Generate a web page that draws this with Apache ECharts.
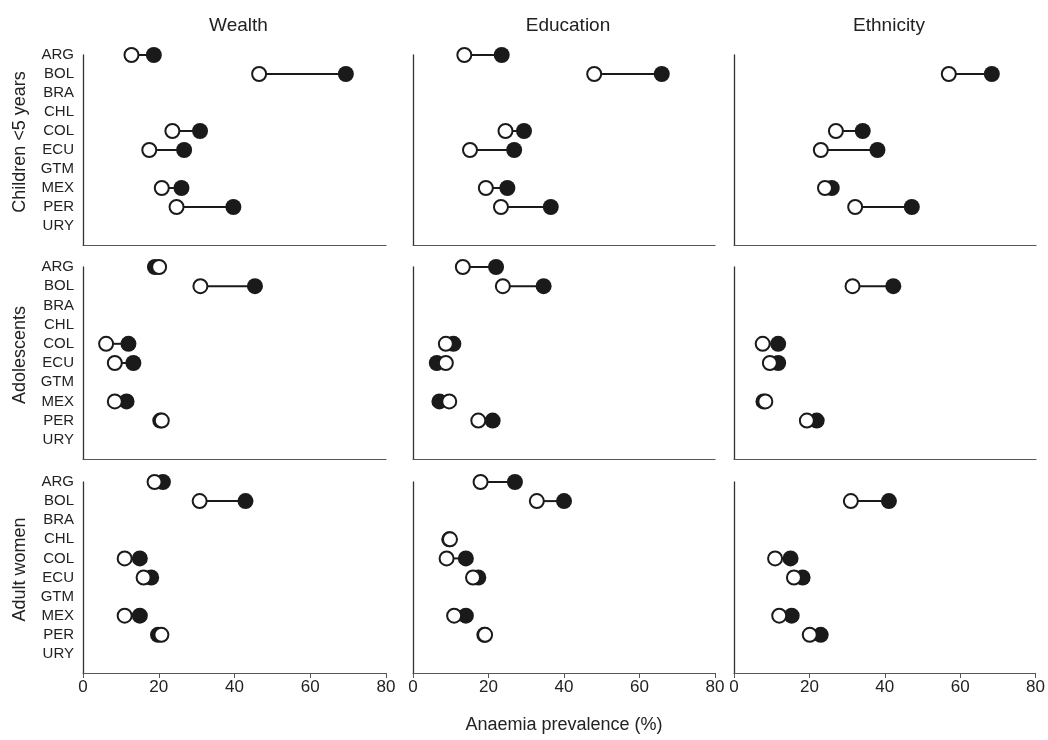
<!DOCTYPE html>
<html>
<head>
<meta charset="utf-8">
<script src="https://cdn.jsdelivr.net/npm/echarts@6/dist/echarts.min.js"></script>
<style>html,body{margin:0;padding:0;background:#fff}#c{width:1048px;height:740px}</style>
</head>
<body>
<div id="c"></div>
<script>
const countries = ['ARG','BOL','BRA','CHL','COL','ECU','GTM','MEX','PER','URY'];
const columnTitles = ['Wealth','Education','Ethnicity'];
const rowTitles = ['Children <5 years','Adolescents','Adult women'];
const xTicks = [0,20,40,60,80];
const xAxisTitle = 'Anaemia prevalence (%)';

// open = open circle group, filled = filled circle group
const wealthChildrenOpen     = [12.8,46.5,null,null,23.6,17.5,null,20.8,24.7,null];
const wealthChildrenFilled   = [18.7,69.4,null,null,30.9,26.7,null,26.0,39.7,null];
const educChildrenOpen       = [13.6,48.0,null,null,24.5,15.1,null,19.3,23.3,null];
const educChildrenFilled     = [23.5,65.9,null,null,29.4,26.8,null,25.0,36.5,null];
const ethnChildrenOpen       = [null,56.9,null,null,27.0,23.0,null,24.1,32.1,null];
const ethnChildrenFilled     = [null,68.3,null,null,34.1,38.0,null,25.9,47.1,null];

const wealthAdolOpen         = [20.1,31.0,null,null,6.1,8.4,null,8.4,20.8,null];
const wealthAdolFilled       = [19.0,45.4,null,null,12.0,13.3,null,11.5,20.4,null];
const educAdolOpen           = [13.2,23.8,null,null,8.7,8.7,null,9.6,17.3,null];
const educAdolFilled         = [22.0,34.6,null,null,10.7,6.3,null,7.0,21.1,null];
const ethnAdolOpen           = [null,31.4,null,null,7.6,9.5,null,8.3,19.3,null];
const ethnAdolFilled         = [null,42.2,null,null,11.7,11.7,null,7.8,21.9,null];

const wealthWomenOpen        = [18.9,30.8,null,null,11.0,16.0,null,11.0,20.7,null];
const wealthWomenFilled      = [21.1,42.9,null,null,15.0,18.0,null,15.0,19.8,null];
const educWomenOpen          = [17.9,32.8,null,9.8,8.9,15.9,null,10.9,19.1,null];
const educWomenFilled        = [27.0,40.0,null,9.6,14.0,17.3,null,14.0,18.9,null];
const ethnWomenOpen          = [null,31.0,null,null,10.9,15.9,null,12.0,20.1,null];
const ethnWomenFilled        = [null,41.1,null,null,15.0,18.2,null,15.3,23.0,null];

const panelData = [
  [[wealthChildrenOpen,wealthChildrenFilled],[educChildrenOpen,educChildrenFilled],[ethnChildrenOpen,ethnChildrenFilled]],
  [[wealthAdolOpen,wealthAdolFilled],[educAdolOpen,educAdolFilled],[ethnAdolOpen,ethnAdolFilled]],
  [[wealthWomenOpen,wealthWomenFilled],[educWomenOpen,educWomenFilled],[ethnWomenOpen,ethnWomenFilled]]
];

const FONT = '"Liberation Sans", Arial, sans-serif';
const colLeft = [83, 413, 734];
const colWidth = [303, 302, 302];
const rowTop = [55, 267, 482];
const rowHeight = [190, 192, 191];

const grids = [], xAxes = [], yAxes = [], series = [];
let gi = 0;
for (let r = 0; r < 3; r++) {
  for (let c = 0; c < 3; c++) {
    grids.push({left: colLeft[c], top: rowTop[r], width: colWidth[c], height: rowHeight[r], containLabel: false});
    const bottom = r === 2;
    xAxes.push({
      type: 'value', gridIndex: gi, min: xTicks[0], max: xTicks[xTicks.length-1], interval: 20,
      axisLine: {show: true, lineStyle: {color: '#555', width: 1.2}},
      axisTick: {show: bottom, length: 5, lineStyle: {color: '#555'}},
      axisLabel: {show: bottom, fontSize: 17, color: '#222', fontFamily: FONT, margin: 6},
      splitLine: {show: false}
    });
    yAxes.push({
      type: 'category', gridIndex: gi, data: countries.concat(['']), inverse: true, boundaryGap: false,
      axisLine: {show: true, lineStyle: {color: '#333', width: 1.3}},
      axisTick: {show: false},
      axisLabel: {show: c === 0, interval: 0, hideOverlap: false, fontSize: 15, color: '#222', fontFamily: FONT, margin: 9},
      splitLine: {show: false}
    });
    const [openArr, filledArr] = panelData[r][c];
    const pairs = [], opens = [], fills = [];
    countries.forEach((k, i) => {
      if (openArr[i] != null && filledArr[i] != null) pairs.push([openArr[i], filledArr[i], i]);
      if (filledArr[i] != null) fills.push([filledArr[i], i]);
      if (openArr[i] != null) opens.push([openArr[i], i]);
    });
    series.push({
      type: 'custom', xAxisIndex: gi, yAxisIndex: gi, z: 1, silent: true,
      encode: {x: [0, 1], y: 2},
      data: pairs,
      renderItem: function (params, api) {
        const p1 = api.coord([api.value(0), api.value(2)]);
        const p2 = api.coord([api.value(1), api.value(2)]);
        return {type: 'line', shape: {x1: p1[0], y1: p1[1], x2: p2[0], y2: p2[1]},
                style: {stroke: '#1a1a1a', lineWidth: 2}};
      }
    });
    series.push({
      type: 'scatter', xAxisIndex: gi, yAxisIndex: gi, z: 2, symbol: 'circle', symbolSize: 16,
      itemStyle: {color: '#1a1a1a', opacity: 1}, data: fills, silent: true
    });
    series.push({
      type: 'scatter', xAxisIndex: gi, yAxisIndex: gi, z: 3, symbol: 'circle', symbolSize: 14,
      itemStyle: {color: '#fff', borderColor: '#1a1a1a', borderWidth: 2, opacity: 1}, data: opens, silent: true
    });
    gi++;
  }
}

const titles = columnTitles.map((t, c) => ({
  text: t, left: colLeft[c] + colWidth[c] / 2 - 1, top: 11, textAlign: 'center',
  textStyle: {fontSize: 19, fontWeight: 'normal', color: '#222', fontFamily: FONT}
}));

const graphics = rowTitles.map((t, r) => ({
  type: 'text', x: 20, y: rowTop[r] + rowHeight[r] / 2 - 8, rotation: Math.PI / 2,
  style: {text: t, fontSize: 18, fill: '#222', fontFamily: FONT, textAlign: 'center', textVerticalAlign: 'middle'}
}));
graphics.push({
  type: 'text', x: 564, y: 725,
  style: {text: xAxisTitle, fontSize: 18, fill: '#222', fontFamily: FONT, textAlign: 'center', textVerticalAlign: 'middle'}
});

const chart = echarts.init(document.getElementById('c'), null, {renderer: 'canvas'});
chart.setOption({
  animation: false,
  backgroundColor: '#fff',
  title: titles,
  grid: grids,
  xAxis: xAxes,
  yAxis: yAxes,
  series: series,
  graphic: graphics
});
</script>
</body>
</html>
